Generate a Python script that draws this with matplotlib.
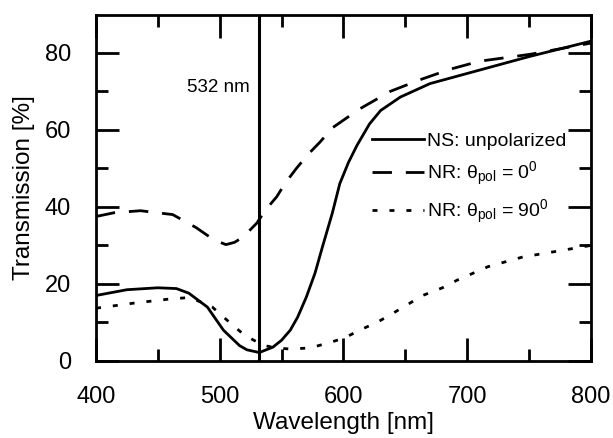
import numpy as np
import matplotlib
matplotlib.use("Agg")
import matplotlib.pyplot as plt
from matplotlib.ticker import MultipleLocator

plt.rcParams['font.family'] = ['Liberation Sans', 'DejaVu Sans']
plt.rcParams['mathtext.fontset'] = 'custom'
plt.rcParams['mathtext.rm'] = 'Liberation Sans'
plt.rcParams['mathtext.it'] = 'Liberation Sans:italic'

# NS: unpolarized
ns_wl = [400, 425, 450, 465, 475, 490, 503, 516, 522, 532, 543, 550, 557, 563, 570,
         577, 583, 591, 597, 604, 611, 621, 630, 646, 670, 710, 750, 800]
ns_t = [17, 18.5, 19, 18.8, 17.6, 14, 8, 4, 2.9, 2.2, 3.6, 5.4, 8, 11.4, 16.6,
        22.8, 29.6, 38.4, 46, 51.5, 56, 61.5, 65, 68.5, 72, 75.5, 79, 83]

# NR: theta_pol = 0
nr0_wl = [400, 415, 436, 462, 481, 495, 505, 512, 519, 530, 537, 546, 553, 562,
          571, 581, 591, 613, 638, 662, 686, 710, 751, 800]
nr0_t = [37.5, 38.5, 39, 38, 34.6, 31.5, 30.2, 30.8, 32.2, 35.8, 39.2, 42.6, 46.2, 50,
         53.5, 56.8, 60.5, 65.4, 70, 73, 75.7, 77.8, 79.6, 82.5]

# NR: theta_pol = 90
nr90_wl = [400, 430, 457, 476, 494, 508, 520, 535, 545, 557, 573, 588, 601, 613,
           627, 639, 651, 664, 680, 692, 717, 745, 771, 800]
nr90_t = [13.7, 15, 16, 16.5, 14, 10, 6.7, 4.1, 3.4, 3.1, 3.4, 4.7, 6, 8,
          10, 12.2, 14.5, 17, 19, 21, 24.5, 27, 28.4, 30]

laser_wl = 532

fig = plt.figure(figsize=(6.13, 4.38), dpi=100)
ax = fig.add_axes([0.1566, 0.1758, 0.8074, 0.79])

ax.plot(ns_wl, ns_t, color='black', lw=2, label='NS: unpolarized')
ax.plot(nr0_wl, nr0_t, color='black', lw=2, linestyle=(0, (7, 5)),
        label='NR: θ$_{\\rm pol}$ = 0$^0$')
ax.plot(nr90_wl, nr90_t, color='black', lw=2, linestyle=(0, (1.8, 4.3)),
        label='NR: θ$_{\\rm pol}$ = 90$^0$')
ax.axvline(laser_wl, color='black', lw=2.2)
ax.text(laser_wl - 8, 71, '532 nm', ha='right', va='center', fontsize=13.5)

ax.set_xlim(400, 800)
ax.set_ylim(0, 89.8)
ax.xaxis.set_major_locator(MultipleLocator(100))
ax.xaxis.set_minor_locator(MultipleLocator(50))
ax.yaxis.set_major_locator(MultipleLocator(20))
ax.yaxis.set_minor_locator(MultipleLocator(10))
ax.tick_params(which='both', direction='in', top=True, right=True, width=2,
               labelsize=17, pad=18)
ax.tick_params(which='major', length=16.5)
ax.tick_params(which='minor', length=8.5)
for s in ax.spines.values():
    s.set_linewidth(2)

ax.set_xlabel('Wavelength [nm]', fontsize=17.5, labelpad=3)
ax.set_ylabel('Transmission [%]', fontsize=17.5, labelpad=7)

ax.legend(loc='upper left', bbox_to_anchor=(0.5576, 0.66), frameon=False,
          fontsize=14, handlelength=2.7, handletextpad=0.15, labelspacing=0.5,
          borderaxespad=0, borderpad=0)

fig.savefig('out.png', dpi=100)
